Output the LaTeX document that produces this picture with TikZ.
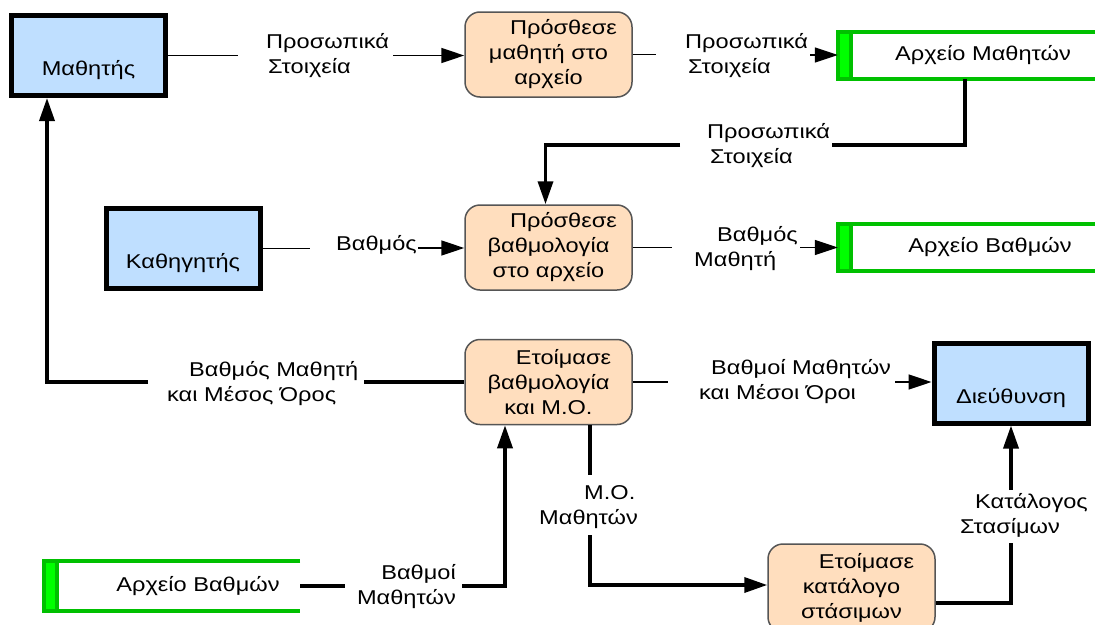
\documentclass[tikz,border=0pt]{standalone}
\usepackage{fontspec}
\setmainfont{Liberation Sans}[FakeStretch=1.18]
\usetikzlibrary{arrows.meta}

\definecolor{entblue}{RGB}{191,223,255}
\definecolor{procfill}{RGB}{255,222,190}
\definecolor{procedge}{RGB}{85,85,85}
\definecolor{storeedge}{RGB}{0,192,0}
\definecolor{storestrip}{RGB}{0,255,0}

% open-ended data store frame with the coloured strip on its left side
\newcommand\drawstore[1]{%
  \fill[storestrip] (#1.north west) rectangle ([xshift=13pt]#1.south west);
  \draw[storeedge, line width=4pt] ([xshift=13pt]#1.north west) -- ([xshift=13pt]#1.south west);
  \draw[storeedge, line width=4pt, line join=miter] (#1.north east) -- (#1.north west) -- (#1.south west) -- (#1.south east);
}

\begin{document}
\begin{tikzpicture}[x=1pt,y=-1pt,
  every node/.style={font=\fontsize{20}{25}\selectfont, inner sep=0pt},
  entity/.style={draw=black, line width=5pt, fill=entblue, minimum width=154pt,
                 minimum height=80pt, text height=40pt, text depth=0pt},
  process/.style={draw=procedge, line width=1.5pt, fill=procfill, rounded corners=15pt,
                  minimum width=167pt, minimum height=85pt, align=center},
  storebox/.style={minimum height=47pt},
  flowlbl/.style={align=left},
  thinflow/.style={line width=1.6pt},
  thickflow/.style={line width=3.5pt},
  flowtip/.style={-{Triangle[length=23pt,width=15pt]}}
]
\useasboundingbox (0,0) rectangle (1095,624);

% external entities
\node[entity] (mathitis) at (88.5,55.5) {Μαθητής};
\node[entity] (kath) at (183,248.5) {Καθηγητής};
\node[entity] (dieft) at (1011,383) {Διεύθυνση};

% processes
\node[process] (p1) at (548.5,54.5) {\hspace*{30pt}Πρόσθεσε\\μαθητή στο\\αρχείο};
\node[process] (p2) at (548.5,247.5) {\hspace*{30pt}Πρόσθεσε\\βαθμολογία\\στο αρχείο};
\node[process] (p3) at (548.5,382) {\hspace*{30pt}Ετοίμασε\\βαθμολογία\\και Μ.Ο.};
\node[process, minimum height=88pt] (p4) at (851.5,588) {\hspace*{30pt}Ετοίμασε\\κατάλογο\\στάσιμων};

% data stores
\node[storebox, minimum width=262pt] (st1) at (969,55.5) {\hspace*{28pt}Αρχείο Μαθητών};
\node[storebox, minimum width=262pt] (st2) at (969,247.5) {\hspace*{42pt}Αρχείο Βαθμών};
\node[storebox, minimum width=256pt, minimum height=50pt] (st3) at (172,586) {\hspace*{52pt}Αρχείο Βαθμών};
\drawstore{st1}
\drawstore{st2}
\drawstore{st3}

% label gaps on the flows
\coordinate (f1a) at (238,55.5);   \coordinate (f1b) at (393,55.5);
\coordinate (f2a) at (656,55);     \coordinate (f2b) at (810,55);
\coordinate (f3a) at (832,145);    \coordinate (f3b) at (680,145);
\coordinate (f4a) at (310,248);    \coordinate (f4b) at (418,248);
\coordinate (f5a) at (672,247.5);  \coordinate (f5b) at (800,247.5);
\coordinate (f6a) at (364,382);    \coordinate (f6b) at (148,382);
\coordinate (f7a) at (668,382);    \coordinate (f7b) at (895,382);
\coordinate (f8a) at (590,475);    \coordinate (f8b) at (590,535);
\coordinate (f9a) at (1011,543);   \coordinate (f9b) at (1011,490);
\coordinate (f10a) at (345,586); \coordinate (f10b) at (462,586);

% Μαθητής -> Πρόσθεσε μαθητή
\draw[thinflow] (mathitis.east) -- (mathitis.east -| f1a);
\draw[thinflow,flowtip] (f1b) -- (f1b -| p1.west);
\node[flowlbl, anchor=west] (l1) at (266,56) {Προσωπικά\\\hspace*{2pt}Στοιχεία};

% Πρόσθεσε μαθητή -> Αρχείο Μαθητών
\draw[thinflow] (p1.east) -- (p1.east -| f2a);
\draw[thinflow,flowtip] (f2b) -- (f2b -| st1.west);
\node[flowlbl, anchor=west] (l2) at (685,56) {Προσωπικά\\\hspace*{3pt}Στοιχεία};

% Αρχείο Μαθητών -> Πρόσθεσε βαθμολογία
\draw[thickflow] ([xshift=-4pt]st1.south) |- (f3a);
\draw[thickflow,flowtip] (f3b) -| ([xshift=-3pt]p2.north);
\node[flowlbl, anchor=west] (l3) at (707,146) {Προσωπικά\\\hspace*{3pt}Στοιχεία};

% Καθηγητής -> Πρόσθεσε βαθμολογία
\draw[thinflow] (kath.east) -- (kath.east -| f4a);
\draw[thinflow,flowtip] (f4b) -- (f4b -| p2.west);
\node[flowlbl, anchor=east] (l4) at (417,245) {Βαθμός};

% Πρόσθεσε βαθμολογία -> Αρχείο Βαθμών
\draw[thinflow] (p2.east) -- (p2.east -| f5a);
\draw[thinflow,flowtip] (f5b) -- (f5b -| st2.west);
\node[flowlbl, anchor=west] (l5) at (694,249) {\hspace*{23pt}Βαθμός\\Μαθητή};

% Ετοίμασε βαθμολογία -> Μαθητής
\draw[thickflow] (p3.west) -- (p3.west -| f6a);
\draw[thickflow,flowtip] (f6b) -| ([xshift=38pt]mathitis.south west);
\node[flowlbl, anchor=west] (l6) at (167,384) {\hspace*{22pt}Βαθμός Μαθητή\\και Μέσος Όρος};

% Ετοίμασε βαθμολογία -> Διεύθυνση
\draw[thinflow] (p3.east) -- (p3.east -| f7a);
\draw[thinflow,flowtip] (f7b) -- (f7b -| dieft.west);
\node[flowlbl, anchor=west] (l7) at (699,382) {\hspace*{12pt}Βαθμοί Μαθητών\\και Μέσοι Όροι};

% Ετοίμασε βαθμολογία -> Ετοίμασε κατάλογο
\draw[thickflow] ([xshift=41.5pt]p3.south) -- (f8a);
\draw[thickflow,flowtip] (f8b) |- ([yshift=3pt]p4.west);
\node[flowlbl, anchor=west] (l8) at (539,507) {\hspace*{45pt}Μ.Ο.\\Μαθητών};

% Ετοίμασε κατάλογο -> Διεύθυνση
\draw[thickflow] ([yshift=-15pt]p4.east) -| (f9a);
\draw[thickflow,flowtip] (f9b) -- (dieft.south);
\node[flowlbl, anchor=west] (l9) at (960,515) {\hspace*{15pt}Κατάλογος\\Στασίμων};

% Αρχείο Βαθμών -> Ετοίμασε βαθμολογία
\draw[thickflow] (st3.east) -- (f10a);
\draw[thickflow,flowtip] (f10b) -| ([xshift=-43.5pt]p3.south);
\node[align=right, anchor=east] (l10) at (456,587) {Βαθμοί\\Μαθητών};

\end{tikzpicture}
\end{document}
